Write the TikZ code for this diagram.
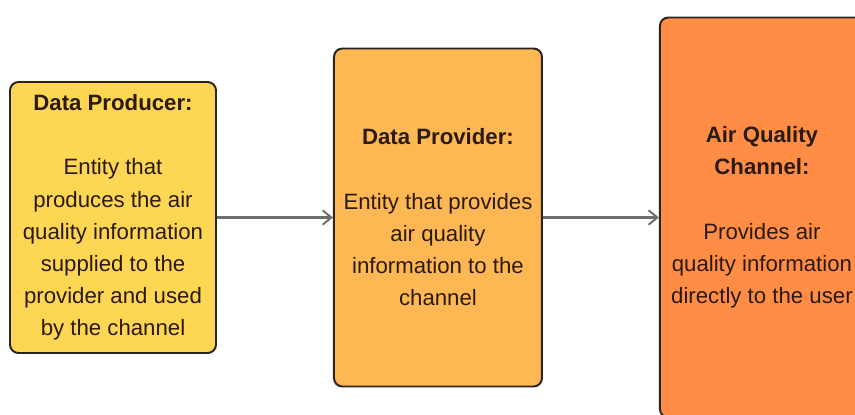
\documentclass[tikz,border=0pt]{standalone}
\usepackage{fontspec}
\setmainfont{Liberation Sans}
\usepackage{tikz}
\usetikzlibrary{arrows.meta,positioning}
\definecolor{aqproducer}{HTML}{FDD653}
\definecolor{aqprovider}{HTML}{FDB854}
\definecolor{aqchannel}{HTML}{FF8D46}
\definecolor{aqborder}{HTML}{2A2420}
\definecolor{aqtext}{HTML}{2B1A10}
\definecolor{aqarrow}{HTML}{6E6E6E}
\tikzstyle{block} = [rectangle, draw=aqborder, line width=1.4pt, rounded corners=6pt,
    text=aqtext, align=center, font=\fontsize{15.8}{22.9}\selectfont]
\tikzstyle{arrow} = [-{Straight Barb[length=2.2mm,width=3.6mm,line width=1.4pt]}, line width=1.8pt, aqarrow]

\begin{document}
\begin{tikzpicture}
\useasboundingbox (0,0) rectangle (21.375,-10.35);
\clip (0,0) rectangle (21.375,-10.35);
\node[block, fill=aqproducer, minimum width=5.15cm, minimum height=6.775cm] (producer) at (2.825,-5.4375)
  {\textbf{Data Producer:}\\[22.9pt]Entity that\\produces the air\\quality information\\supplied to the\\provider and used\\by the channel};
\node[block, fill=aqprovider, minimum width=5.2cm, minimum height=8.45cm, right=2.9cm of producer] (provider)
  {\textbf{Data Provider:}\\[22.9pt]Entity that provides\\air quality\\information to the\\channel};
\node[block, fill=aqchannel, minimum width=5.1cm, minimum height=10cm, right=2.9cm of provider] (channel)
  {\textbf{Air Quality}\\\textbf{Channel:}\\[22.9pt]Provides air\\quality information\\directly to the user};

\draw[arrow] (producer) -- (provider);
\draw[arrow] (provider) -- (channel);
\end{tikzpicture}
\end{document}
